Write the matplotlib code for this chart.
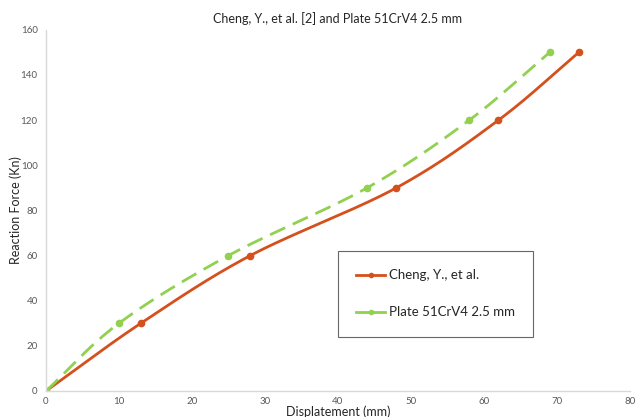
import matplotlib
matplotlib.use("Agg")
import matplotlib.pyplot as plt
import numpy as np

plt.rcParams['font.family'] = ['Lato', 'DejaVu Sans']

# data
cheng_x = [0, 13, 28, 48, 62, 73]
cheng_y = [0, 30, 60, 90, 120, 150]
plate_x = [0, 10, 25, 44, 58, 69]
plate_y = [0, 30, 60, 90, 120, 150]

x_ticks = [0, 10, 20, 30, 40, 50, 60, 70, 80]
y_ticks = [0, 20, 40, 60, 80, 100, 120, 140, 160]

ORANGE = '#D4501C'
GREEN = '#92D050'


def smooth(xs, ys, n=40):
    """Catmull-Rom path through the points (like Excel's smoothed line)"""
    p = np.column_stack([xs, ys]).astype(float)
    p = np.vstack([2 * p[0] - p[1], p, 2 * p[-1] - p[-2]])
    out = []
    t = np.linspace(0, 1, n)[:, None]
    for i in range(1, len(p) - 2):
        p0, p1, p2, p3 = p[i - 1], p[i], p[i + 1], p[i + 2]
        seg = 0.5 * ((2 * p1) + (-p0 + p2) * t + (2 * p0 - 5 * p1 + 4 * p2 - p3) * t ** 2
                     + (-p0 + 3 * p1 - 3 * p2 + p3) * t ** 3)
        out.append(seg if i == 1 else seg[1:])
    out = np.vstack(out)
    return out[:, 0], out[:, 1]


fig = plt.figure(figsize=(6.36, 4.17), dpi=100)
ax = fig.add_axes([0.0723, 0.0624, 0.918, 0.866])

sx, sy = smooth(cheng_x, cheng_y)
ax.plot(sx, sy, color=ORANGE, lw=2.0, solid_capstyle='round')
ax.plot(cheng_x, cheng_y, 'o', color=ORANGE, ms=4.5)
ax.plot([], [], '-o', color=ORANGE, lw=2.0, ms=3, label='Cheng, Y., et al.')

gx, gy = smooth(plate_x, plate_y)
ax.plot(gx, gy, color=GREEN, lw=2.0, dashes=(6, 3))
ax.plot(plate_x, plate_y, 'o', color=GREEN, ms=4.5)
ax.plot([], [], '-o', color=GREEN, lw=2.0, ms=3, label='Plate 51CrV4 2.5 mm')

ax.set_xlim(0, 80)
ax.set_ylim(0, 160)
ax.set_xticks(x_ticks)
ax.set_yticks(y_ticks)
ax.tick_params(length=0, labelsize=7, colors='#595959', pad=6)
ax.tick_params(axis='x', pad=4)

for s in ['top', 'right']:
    ax.spines[s].set_visible(False)
for s in ['left', 'bottom']:
    ax.spines[s].set_color('#D9D9D9')
    ax.spines[s].set_linewidth(1)

ax.set_title('Cheng, Y., et al. [2] and Plate 51CrV4 2.5 mm', fontsize=9, color='#262626', pad=5)
ax.set_xlabel('Displatement (mm)', fontsize=9, color='#262626', labelpad=0)
ax.set_ylabel('Reaction Force (Kn)', fontsize=9, color='#262626', labelpad=-1)

leg = ax.legend(loc='lower left', bbox_to_anchor=(0.5, 0.15, 0.335, 0.28), mode='expand',
                fontsize=9.5, frameon=True, fancybox=False, handlelength=2.2,
                handletextpad=0.3, labelspacing=1.9, borderpad=1.4, borderaxespad=0)
leg.get_frame().set_edgecolor('#404040')
leg.get_frame().set_linewidth(0.8)
for t in leg.get_texts():
    t.set_color('#262626')

fig.savefig('out.png', dpi=100)
